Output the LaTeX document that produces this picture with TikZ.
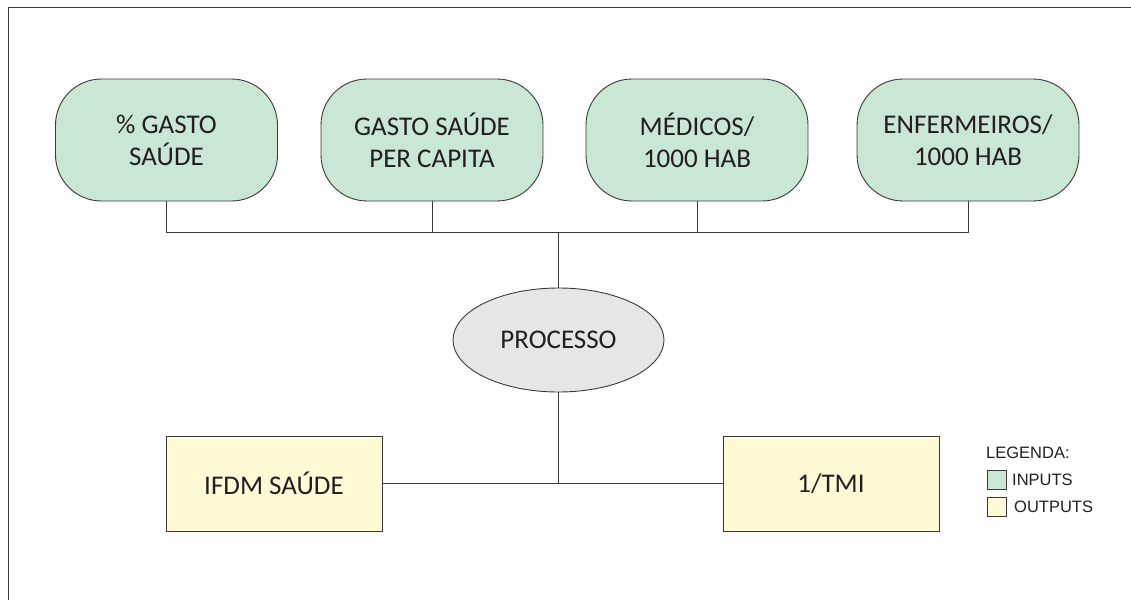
\documentclass[tikz,border=0pt]{standalone}
\usepackage{fontspec}
\setmainfont{Carlito}
\newfontfamily\legendfont{Liberation Sans}
\usetikzlibrary{shapes.geometric}
\definecolor{ingreen}{HTML}{CAE6D4}
\definecolor{outyellow}{HTML}{FFF9D5}
\definecolor{procgray}{HTML}{E6E6E7}
\definecolor{edge}{HTML}{3A3A3A}
\definecolor{txt}{HTML}{231F20}
\tikzset{
  mainfont/.style={font=\fontsize{27}{32}\selectfont},
  inbox/.style={draw=edge, line width=0.9pt, fill=ingreen, rounded corners=46pt,
    minimum width=222pt, minimum height=122pt, align=center, text=txt,
    mainfont, inner sep=0pt},
  outbox/.style={draw=edge, line width=0.9pt, fill=outyellow,
    minimum width=216pt, minimum height=95pt, align=center, text=txt,
    mainfont, inner sep=0pt},
  procnode/.style={draw=edge, line width=0.9pt, fill=procgray, ellipse,
    minimum width=211pt, minimum height=104pt, text=txt,
    mainfont, inner sep=0pt},
  conn/.style={draw=edge, line width=0.9pt},
  swatch/.style={draw=edge, line width=0.9pt, minimum width=19pt, minimum height=19pt, inner sep=0pt},
  legtext/.style={text=txt, font=\legendfont\fontsize{16.5}{18}\selectfont, anchor=west, inner sep=0pt}
}
\begin{document}
\begin{tikzpicture}[x=1pt,y=-1pt]
\useasboundingbox (0,0) rectangle (1131,600);
% frame
\draw[conn, line width=1pt] (8,600) -- (8,7) -- (1131,7);
% input boxes
\node[inbox] (g1) at (166.5,140) {\% GASTO\\SAÚDE};
\node[inbox] (g2) at (432,140) {GASTO SAÚDE\\PER CAPITA};
\node[inbox] (g3) at (697,140) {MÉDICOS/\\1000 HAB};
\node[inbox] (g4) at (968,140) {ENFERMEIROS/\\1000 HAB};
% process
\node[procnode] (p) at (558.5,340) {PROCESSO};
% outputs
\node[outbox] (o1) at (274,483.5) {IFDM SAÚDE};
\node[outbox] (o2) at (831,483.5) {1/TMI};
% connectors
\coordinate (j1) at (166.5,232);
\coordinate (j4) at (968,232);
\coordinate (jt) at (558.5,232);
\coordinate (jb) at (558.5,483.5);
\draw[conn] (g1.south) -- (j1) -- (j4) -- (g4.south);
\draw[conn] (g2.south) -- (g2.south |- j1);
\draw[conn] (g3.south) -- (g3.south |- j1);
\draw[conn] (jt) -- (p.north);
\draw[conn] (p.south) -- (jb);
\draw[conn] (o1.east) -- (o2.west);
% legend
\node[legtext] (lt) at (986,453) {LEGENDA:};
\node[swatch, fill=ingreen] (s1) at (996.5,480) {};
\node[legtext] (l1) at (1012,480) {INPUTS};
\node[swatch, fill=outyellow] (s2) at (996.5,507) {};
\node[legtext] (l2) at (1014,507) {OUTPUTS};
\end{tikzpicture}
\end{document}
